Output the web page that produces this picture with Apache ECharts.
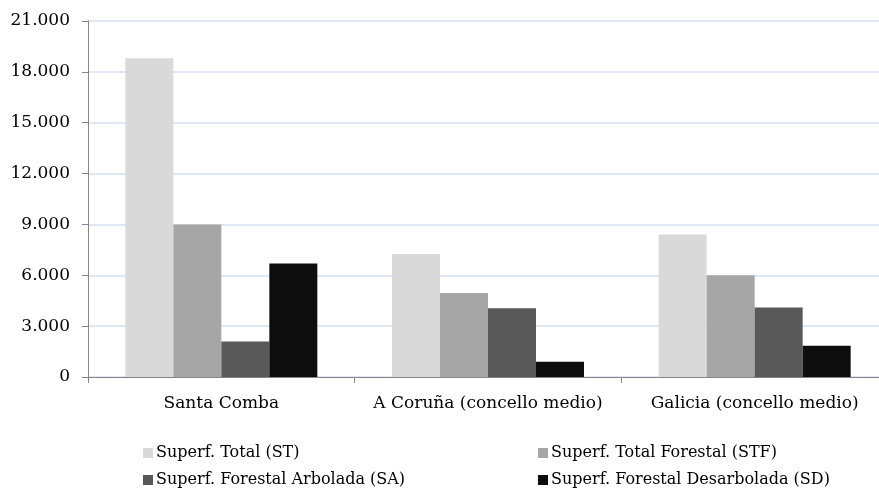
<!DOCTYPE html>
<html>
<head>
<meta charset="utf-8">
<style>
  html, body { margin: 0; padding: 0; background: #ffffff; overflow: hidden; width: 879px; height: 492px; }
  #chart { width: 900px; height: 492px; }
</style>
<script src="https://cdn.jsdelivr.net/npm/echarts@6/dist/echarts.min.js"></script>
</head>
<body>
<div id="chart"></div>
<script>
// Surface areas (ha) by territory
const categories = ['Santa Comba', 'A Coruña (concello medio)', 'Galicia (concello medio)'];
const seriesNames = [
  'Superf. Total (ST)',
  'Superf. Total Forestal (STF)',
  'Superf. Forestal Arbolada (SA)',
  'Superf. Forestal Desarbolada (SD)'
];
const superfTotal = [18800, 7250, 8400];
const superfTotalForestal = [9000, 4950, 6000];
const superfArbolada = [2100, 4050, 4100];
const superfDesarbolada = [6700, 900, 1850];
const yTicks = [0, 3000, 6000, 9000, 12000, 15000, 18000, 21000];

const seriesValues = [superfTotal, superfTotalForestal, superfArbolada, superfDesarbolada];
const barColors = ['#d9d9d9', '#a6a6a6', '#595959', '#0d0d0d'];

// thousands separator as a dot
function fmt(v) {
  return String(v).replace(/\B(?=(\d{3})+(?!\d))/g, '.');
}

const font = '"DejaVu Serif", "Liberation Serif", serif';
const chart = echarts.init(document.getElementById('chart'), null, { renderer: 'canvas' });

// legend laid out as a 2x2 block, one entry per component
const legendSlots = [
  { left: 143, top: 445 },
  { left: 538, top: 445 },
  { left: 143, top: 472 },
  { left: 538, top: 472 }
];
const legends = seriesNames.map(function (name, i) {
  return {
    left: legendSlots[i].left,
    top: legendSlots[i].top,
    padding: 0,
    itemWidth: 10,
    itemHeight: 10,
    itemGap: 0,
    icon: 'rect',
    selectedMode: false,
    data: [name],
    textStyle: { fontFamily: font, fontSize: 16, color: '#000', padding: [0, 0, 0, -2] }
  };
});

chart.setOption({
  animation: false,
  backgroundColor: '#ffffff',
  grid: { left: 88, top: 21, width: 800, height: 356, containLabel: false },
  legend: legends,
  xAxis: {
    type: 'category',
    data: categories,
    boundaryGap: true,
    axisLine: { lineStyle: { color: '#868686', width: 1 } },
    axisTick: { show: true, interval: 0, length: 6, alignWithLabel: false, lineStyle: { color: '#868686' } },
    axisLabel: { interval: 0, margin: 18, fontFamily: font, fontSize: 17, color: '#000' }
  },
  yAxis: {
    type: 'value',
    min: yTicks[0],
    max: yTicks[yTicks.length - 1],
    interval: yTicks[1] - yTicks[0],
    axisLine: { show: true, lineStyle: { color: '#868686', width: 1 } },
    axisTick: { show: true, length: 6, lineStyle: { color: '#868686' } },
    axisLabel: { margin: 18, fontFamily: font, fontSize: 17, color: '#000', formatter: fmt },
    splitLine: { lineStyle: { color: '#d6e0f2', width: 1.5 } }
  },
  series: seriesNames.map(function (name, i) {
    return {
      name: name,
      type: 'bar',
      data: seriesValues[i],
      barGap: '0%',
      barCategoryGap: '28%',
      itemStyle: { color: barColors[i] }
    };
  })
});
</script>
</body>
</html>
